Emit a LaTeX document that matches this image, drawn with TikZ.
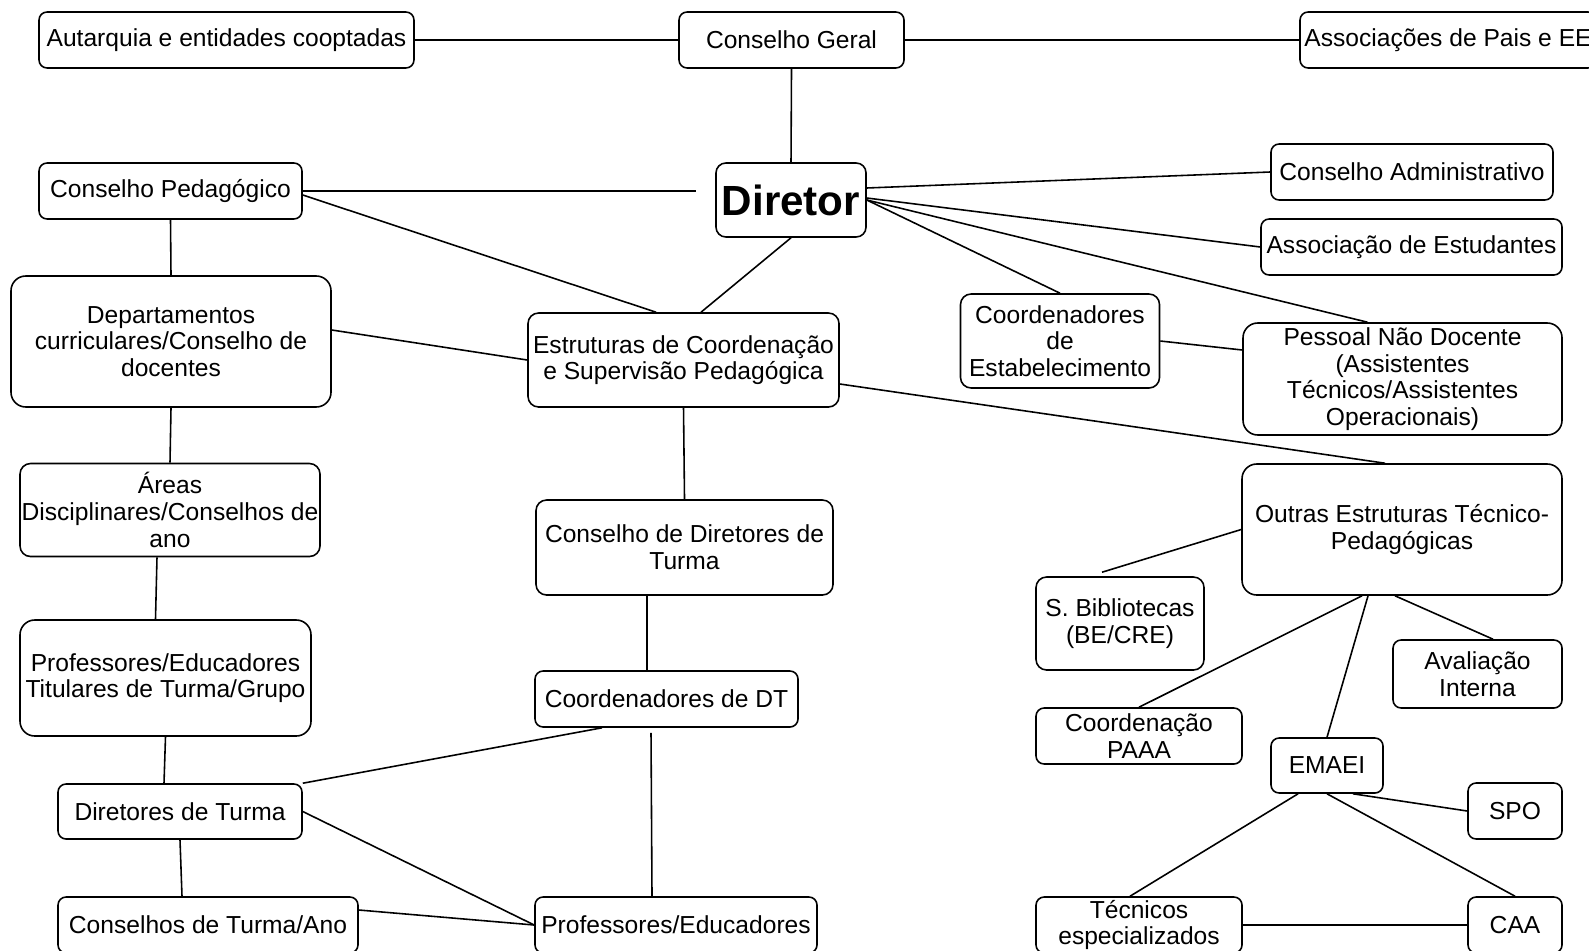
\documentclass[tikz,border=0pt]{standalone}
\usepackage{fontspec}
\setmainfont{Liberation Sans}
\usepackage{tikz}
\newcommand{\orgfont}{\fontsize{7}{7.6}\selectfont}

\begin{document}
\begin{tikzpicture}[font=\orgfont, line width=0.45pt,
  unit/.style={draw, rounded corners=2.3pt, align=center, inner sep=0pt},
  bigunit/.style={unit, rounded corners=4.2pt},
  sz/.style 2 args={minimum width=#1cm, minimum height=#2cm}]
  \useasboundingbox (0,0) rectangle (15.89,-9.50);
  % top row
  \node[unit, sz={3.75}{0.56}] (auta) at (2.265,-0.40) {Autarquia e entidades cooptadas};
  \node[unit, sz={2.25}{0.56}] (cgeral) at (7.915,-0.40) {Conselho Geral};
  \node[unit, sz={2.96}{0.56}] (apais) at (14.48,-0.40) {Associações de Pais e EE};
  % director and its direct units
  \node[unit, rounded corners=2.8pt, sz={1.50}{0.74}, font=\fontsize{12}{14}\selectfont\bfseries] (dir) at (7.91,-2.00) {Diretor};
  \node[unit, sz={2.63}{0.56}] (cped) at (1.705,-1.91) {Conselho Pedagógico};
  \node[unit, sz={2.82}{0.56}] (cadm) at (14.12,-1.72) {Conselho Administrativo};
  \node[unit, sz={3.01}{0.56}] (aest) at (14.115,-2.47) {Associação de Estudantes};
  \node[bigunit, sz={3.20}{1.31}] (dep) at (1.71,-3.415) {Departamentos\\curriculares/Conselho de\\docentes};
  \node[unit, rounded corners=3pt, sz={3.11}{0.94}] (est) at (6.835,-3.60) {Estruturas de Coordenação\\e Supervisão Pedagógica};
  \node[unit, rounded corners=3pt, sz={1.99}{0.94}] (coest) at (10.60,-3.41) {Coordenadores\\de\\Estabelecimento};
  \node[bigunit, sz={3.19}{1.12}] (pnd) at (14.025,-3.79) {Pessoal Não Docente\\(Assistentes\\Técnicos/Assistentes\\Operacionais)};
  % left columns
  \node[unit, rounded corners=3pt, sz={3.00}{0.93}] (areas) at (1.70,-5.10) {Áreas\\Disciplinares/Conselhos de\\ano};
  \node[unit, rounded corners=3pt, sz={2.97}{0.95}] (cdt) at (6.845,-5.475) {Conselho de Diretores de\\Turma};
  \node[bigunit, sz={2.91}{1.16}] (proft) at (1.655,-6.78) {Professores/Educadores\\Titulares de Turma/Grupo};
  \node[unit, sz={2.63}{0.56}] (coordt) at (6.665,-6.99) {Coordenadores de DT};
  \node[unit, sz={2.44}{0.55}] (dturma) at (1.80,-8.115) {Diretores de Turma};
  \node[unit, sz={3.00}{0.56}] (cturma) at (2.08,-9.25) {Conselhos de Turma/Ano};
  \node[unit, sz={2.82}{0.56}] (profe) at (6.76,-9.25) {Professores/Educadores};
  % technical-pedagogical structures
  \node[bigunit, sz={3.20}{1.31}] (outras) at (14.02,-5.295) {Outras Estruturas Técnico-\\Pedagógicas};
  \node[unit, rounded corners=3pt, sz={1.68}{0.93}] (sbib) at (11.20,-6.235) {S. Bibliotecas\\(BE/CRE)};
  \node[unit, sz={1.69}{0.68}] (aval) at (14.775,-6.74) {Avaliação\\Interna};
  \node[unit, sz={2.06}{0.56}] (paaa) at (11.39,-7.36) {Coordenação\\PAAA};
  \node[unit, sz={1.12}{0.55}] (emaei) at (13.27,-7.655) {EMAEI};
  \node[unit, sz={0.94}{0.56}] (spo) at (15.15,-8.11) {SPO};
  \node[unit, sz={2.06}{0.56}] (tec) at (11.39,-9.25) {Técnicos\\especializados};
  \node[unit, sz={0.94}{0.56}] (caa) at (15.15,-9.25) {CAA};
  % links at the top
  \draw (auta.east) -- (cgeral.west);
  \draw (cgeral.east) -- (apais.west);
  \draw (cgeral.south) -- (dir.north);
  \draw (cped.east) -- ([xshift=-0.19cm]cped.east -| dir.west);
  \draw ([yshift=-0.04cm]cped.east) -- ([xshift=-0.275cm]est.north);
  \draw (dir.south) -- ([xshift=0.175cm]est.north);
  \draw ([yshift=0.12cm]dir.east) -- (cadm.west);
  \draw ([yshift=0.02cm]dir.east) -- (aest.west);
  \draw (dir.east) -- (coest.north);
  \draw (dir.east) -- ([xshift=-0.35cm]pnd.north);
  \draw (coest.east) -- ([yshift=0.29cm]pnd.west);
  % pedagogical side
  \draw (cped.south) -- (dep.north);
  \draw ([yshift=0.115cm]dep.east) -- (est.west);
  \draw (dep.south) -- (areas.north);
  \draw ([xshift=-0.13cm]areas.south) -- ([xshift=-0.10cm]proft.north);
  \draw (proft.south) -- ([xshift=-0.16cm]dturma.north);
  \draw (dturma.south) -- ([xshift=-0.26cm]cturma.north);
  \draw (est.south) -- (cdt.north);
  \draw ([xshift=-0.375cm]cdt.south) -- ([xshift=-0.195cm]coordt.north);
  \draw ([xshift=-0.645cm]coordt.south) -- (dturma.north east);
  \draw ([xshift=-0.155cm, yshift=-0.05cm]coordt.south) -- ([xshift=-0.24cm]profe.north);
  \draw (dturma.east) -- (profe.west);
  \draw ([yshift=0.15cm]cturma.east) -- (profe.west);
  % technical-pedagogical side
  \draw ([yshift=-0.24cm]est.east) -- ([xshift=-0.17cm]outras.north);
  \draw (outras.west) -- ([xshift=-0.18cm, yshift=0.04cm]sbib.north);
  \draw ([xshift=-0.40cm]outras.south) -- (paaa.north);
  \draw ([xshift=-0.34cm]outras.south) -- (emaei.north);
  \draw ([xshift=-0.07cm]outras.south) -- ([xshift=0.155cm]aval.north);
  \draw ([xshift=0.26cm]emaei.south) -- (spo.west);
  \draw (emaei.south) -- (caa.north);
  \draw ([xshift=-0.29cm]emaei.south) -- ([xshift=-0.09cm]tec.north);
  \draw (tec.east) -- (caa.west);
\end{tikzpicture}
\end{document}
